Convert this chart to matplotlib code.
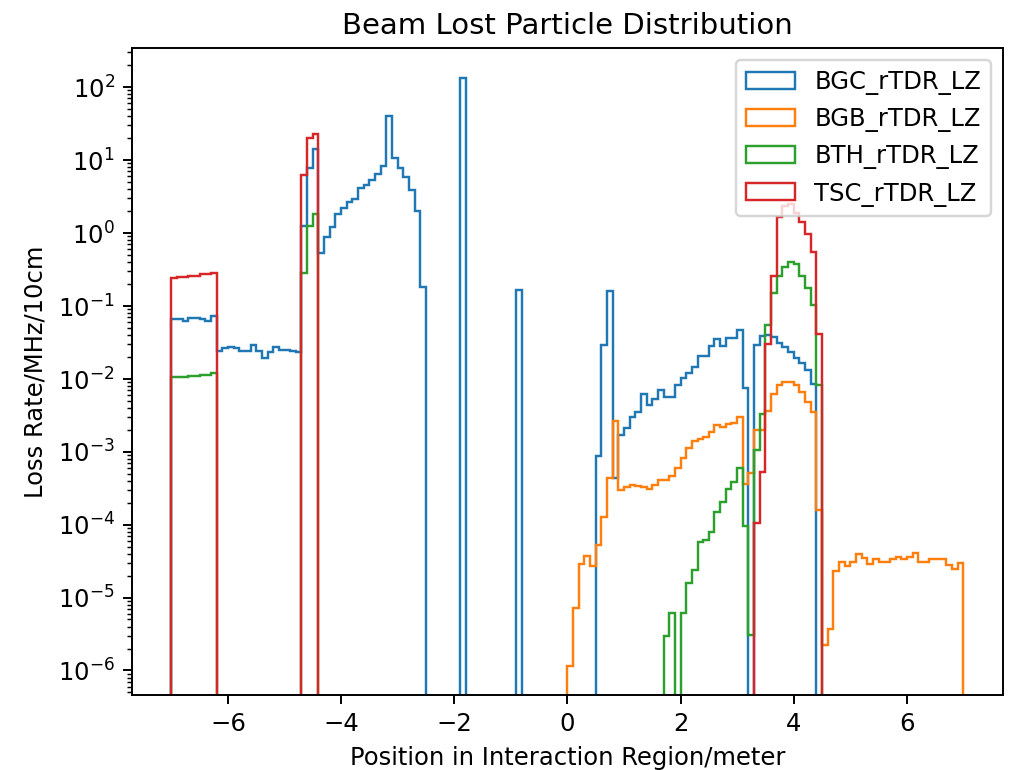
import numpy as np
import matplotlib
matplotlib.use("Agg")
import matplotlib.pyplot as plt

# ---------------- data (bin width 0.1 m, range -7 .. 7) ----------------
BIN_LO, BIN_HI, BIN_W = -7.0, 7.0, 0.1

labels = ["BGC_rTDR_LZ", "BGB_rTDR_LZ", "BTH_rTDR_LZ", "TSC_rTDR_LZ"]

# BGC: segments (start position, per-bin values)
bgc_starts = [-7.0, -1.9, -0.9, 0.5, 3.3]
bgc_vals = [
    [0.066, 0.066, 0.062, 0.068, 0.068, 0.066, 0.062, 0.072,
     0.024, 0.026, 0.0275, 0.026, 0.024, 0.024, 0.0286, 0.024, 0.0195,
     0.0232, 0.0275, 0.0245, 0.025, 0.024, 0.023,
     1.25, 7.7, 14.2,
     0.537, 0.867, 1.22, 1.84, 2.19, 2.69, 2.96, 4.16, 4.58, 5.25, 6.44,
     8.24, 39.6, 10.5, 7.7, 5.85, 3.89, 2.02, 0.18],
    [135.0],
    [0.165],
    [8.6e-4, 0.029, 0.162, 4.3e-4, 1.7e-3, 2.1e-3, 3.0e-3, 3.55e-3, 6.2e-3,
     4.4e-3, 5.25e-3, 6.9e-3, 5.7e-3, 5.7e-3, 8.3e-3, 0.0102, 0.0119, 0.0144,
     0.0206, 0.0206, 0.0277, 0.0349, 0.0277, 0.036, 0.036, 0.047, 0.0074],
    [0.029, 0.038, 0.040, 0.037, 0.031, 0.027, 0.0236, 0.0195, 0.0163,
     0.0132, 0.0086],
]

bgb_starts = [0.0]
bgb_vals = [
    [1.15e-6, 7.1e-6, 2.9e-5, 3.7e-5, 2.7e-5, 5.3e-5, 1.29e-4, 4.3e-4, 2.67e-3,
     3.0e-4, 3.26e-4, 3.5e-4, 3.4e-4, 3.26e-4, 3.05e-4, 3.5e-4, 4.1e-4, 4.1e-4,
     4.6e-4, 5.9e-4, 8.1e-4, 1.12e-3, 1.38e-3, 1.48e-3, 1.6e-3, 1.88e-3,
     2.33e-3, 2.2e-3, 2.4e-3, 2.5e-3, 3.03e-3, 3.66e-4, 5.15e-4, 1.97e-3,
     1.97e-3, 3.56e-3, 6.25e-3, 8.1e-3, 9.1e-3, 9.1e-3, 8.1e-3, 6.5e-3, 4.8e-3,
     3.5e-3, 1.6e-4, 2.24e-6, 3.67e-6, 2.34e-5, 3.05e-5, 2.7e-5, 3.05e-5,
     3.96e-5, 3.46e-5, 2.9e-5, 3.35e-5, 3.1e-5, 3.1e-5, 3.35e-5, 3.57e-5,
     3.35e-5, 3.57e-5, 4.05e-5, 3.1e-5, 3.1e-5, 3.35e-5, 3.35e-5, 3.35e-5,
     2.8e-5, 2.44e-5, 3.0e-5],
]

bth_starts = [-7.0, -4.7, 1.7, 2.0]
bth_vals = [
    [0.0105, 0.0105, 0.0107, 0.011, 0.011, 0.0112, 0.0113, 0.0118],
    [0.28, 1.25, 1.84],
    [2.98e-6, 6.1e-6],
    [6.1e-6, 1.57e-5, 2.4e-5, 5.85e-5, 6.1e-5, 7.9e-5, 1.49e-4, 2.05e-4,
     3.12e-4, 3.86e-4, 6.0e-4, 9.5e-5, 3.1e-6, 1.07e-3, 3.27e-3, 0.055, 0.15,
     0.258, 0.337, 0.395, 0.375, 0.258, 0.178, 0.104, 8.3e-3],
]

tsc_starts = [-7.0, -4.7, 3.3]
tsc_vals = [
    [0.24, 0.25, 0.25, 0.26, 0.26, 0.27, 0.27, 0.28],
    [6.3, 19.7, 22.9],
    [1.06e-4, 5.2e-4, 0.0299, 0.258, 1.63, 2.3, 2.5, 1.87, 1.42, 0.975,
     0.543, 0.041],
]

# ---------------- build bins ----------------
nbins = int(round((BIN_HI - BIN_LO) / BIN_W))
edges = np.linspace(BIN_LO, BIN_HI, nbins + 1)
centers = 0.5 * (edges[:-1] + edges[1:])


def fill(starts, vals):
    w = np.zeros(nbins)
    for s, v in zip(starts, vals):
        i0 = int(round((s - BIN_LO) / BIN_W))
        w[i0:i0 + len(v)] = v
    return w


series = [fill(bgc_starts, bgc_vals), fill(bgb_starts, bgb_vals),
          fill(bth_starts, bth_vals), fill(tsc_starts, tsc_vals)]

# ---------------- plot ----------------
DPI = 175
fig = plt.figure(figsize=(1010.3 / DPI, 770.3 / DPI), dpi=DPI)
ax = fig.add_axes([0.1304, 0.0974, 0.8624, 0.8399])

for w, lab in zip(series, labels):
    ax.hist(centers, bins=edges, weights=w, histtype='step', log=True,
            label=lab)

ax.set_xlim(-7.7, 7.7)
ax.set_ylim(10 ** -6.336, 10 ** 2.535)
ax.set_title("Beam Lost Particle Distribution")
ax.set_xlabel("Position in Interaction Region/meter")
ax.set_ylabel("Loss Rate/MHz/10cm")
ax.legend(loc='upper right')

fig.savefig("out.png", dpi=DPI)
